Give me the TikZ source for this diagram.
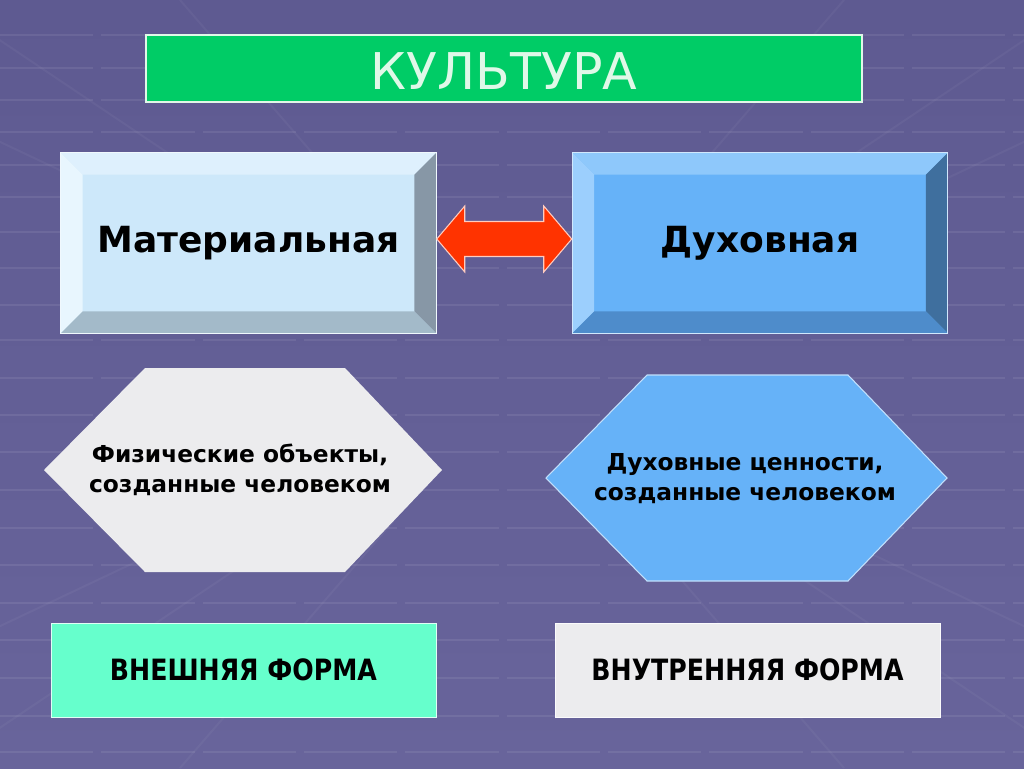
\documentclass[tikz,border=0pt]{standalone}
\usepackage{fontspec}
\setmainfont{DejaVu Sans}
\usetikzlibrary{calc}

\definecolor{fonVerh}{RGB}{94,90,145}
\definecolor{fonSered}{RGB}{72,69,114}
\definecolor{fonNiz}{RGB}{104,100,155}
\definecolor{zelen}{RGB}{0,204,102}
\definecolor{mjata}{RGB}{224,248,232}
\definecolor{krasny}{RGB}{255,51,0}
\definecolor{akva}{RGB}{102,255,204}
\definecolor{seryy}{RGB}{236,236,238}
\definecolor{matLico}{RGB}{205,232,250}
\definecolor{matVerh}{RGB}{222,240,253}
\definecolor{matLevo}{RGB}{232,246,254}
\definecolor{matPravo}{RGB}{135,151,166}
\definecolor{matNiz}{RGB}{163,186,201}
\definecolor{dukhLico}{RGB}{102,178,248}
\definecolor{dukhVerh}{RGB}{142,200,251}
\definecolor{dukhLevo}{RGB}{156,207,253}
\definecolor{dukhPravo}{RGB}{63,111,158}
\definecolor{dukhNiz}{RGB}{78,140,203}

\begin{document}
\begin{tikzpicture}[x=0.75pt,y=0.75pt,yscale=-1,xscale=1,
    bevelbox/.style={fill=#1, inner sep=0pt, minimum width=281.25pt, minimum height=135pt,
        font=\fontsize{27}{34}\selectfont\bfseries},
    formbox/.style={fill=#1, draw=white!80!#1, line width=0.6pt, inner sep=0pt,
        minimum width=288.75pt, minimum height=70.5pt},
    hextext/.style={align=center, font=\fontsize{17.5}{22.5}\selectfont\bfseries},
    formtext/.style={font=\fontsize{22}{26}\selectfont\bfseries}]
    \useasboundingbox (0,0) rectangle (1024,768);

    %Background
    \shade[top color=fonVerh, middle color=fonSered, bottom color=fonNiz] (0,0) rectangle (1024,768);
    \foreach \y in {35,68,100,132,165,197,232,268,305,340,378,415,452,490,528,565,603,640,678,716,752}
        \draw[white, opacity=0.08, line width=1.2pt, dash pattern={on 70pt off 6pt}] (0,\y) -- (1024,\y);
    \foreach \x in {-300,-60,180,844,1084,1324}
        \draw[white, opacity=0.04, line width=1.5pt] ($(512,384)!0.35!(\x,0)$) -- (\x,0);
    \foreach \x in {-300,-60,180,844,1084,1324}
        \draw[white, opacity=0.04, line width=1.5pt] ($(512,384)!0.35!(\x,768)$) -- (\x,768);

    %Title
    \node[fill=zelen, draw=mjata, line width=0.8pt, inner sep=0pt, minimum width=537pt,
        minimum height=50.25pt] (kultura) at (504,68.5) {};
    \node[text=mjata, font=\fontsize{38}{42}\selectfont] (kulturaText) at (504,71) {КУЛЬТУРА};

    %Bevelled boxes
    \node[bevelbox=matLico] (mat) at (248.5,243) {Материальная};
    \node[bevelbox=dukhLico] (dukh) at (760,243) {Духовная};
    \foreach \n in {mat,dukh}{
        \fill[\n Verh] (\n.north west) -- (\n.north east) -- ($(\n.north east)+(-22,22)$) -- ($(\n.north west)+(22,22)$) -- cycle;
        \fill[\n Levo] (\n.north west) -- ($(\n.north west)+(22,22)$) -- ($(\n.south west)+(22,-22)$) -- (\n.south west) -- cycle;
        \fill[\n Pravo] (\n.north east) -- (\n.south east) -- ($(\n.south east)+(-22,-22)$) -- ($(\n.north east)+(-22,22)$) -- cycle;
        \fill[\n Niz] (\n.south west) -- (\n.south east) -- ($(\n.south east)+(-22,-22)$) -- ($(\n.south west)+(22,-22)$) -- cycle;
        \draw[white!70!\n Lico, line width=0.6pt] (\n.north west) rectangle (\n.south east);
    }

    %Double arrow
    \coordinate (strelka) at ($($(mat.east)!0.5!(dukh.west)$)+(0,-4)$);
    \filldraw[fill=krasny, draw=white!75!krasny, line width=0.8pt, shift={(strelka)}]
        (-67.5,0) -- (-39.5,-33) -- (-39.5,-17.5) -- (39.5,-17.5) -- (39.5,-33) -- (67.5,0)
        -- (39.5,33) -- (39.5,17.5) -- (-39.5,17.5) -- (-39.5,33) -- cycle;

    %Hexagons
    \fill[seryy] (145,368) -- (345,368) -- (442,470) -- (345,572) -- (145,572) -- (44,470) -- cycle;
    \filldraw[fill=dukhLico, draw=white!60!dukhLico, line width=0.8pt] (647,375) -- (848,375) -- (947,478) -- (848,581) -- (647,581) -- (546,478) -- cycle;
    % Text Node
    \node[hextext] (fiz) at (240,470) {Физические объекты,\\созданные человеком};
    % Text Node
    \node[hextext] (tsennosti) at (745,479) {Духовные ценности,\\созданные человеком};

    %Form boxes
    \node[formbox=akva, formtext] (vnesh) at (243.5,670) {\scalebox{0.86}[1]{ВНЕШНЯЯ ФОРМА}};
    \node[formbox=seryy, formtext] (vnutr) at (747.5,670) {\scalebox{0.86}[1]{ВНУТРЕННЯЯ ФОРМА}};

\end{tikzpicture}
\end{document}
